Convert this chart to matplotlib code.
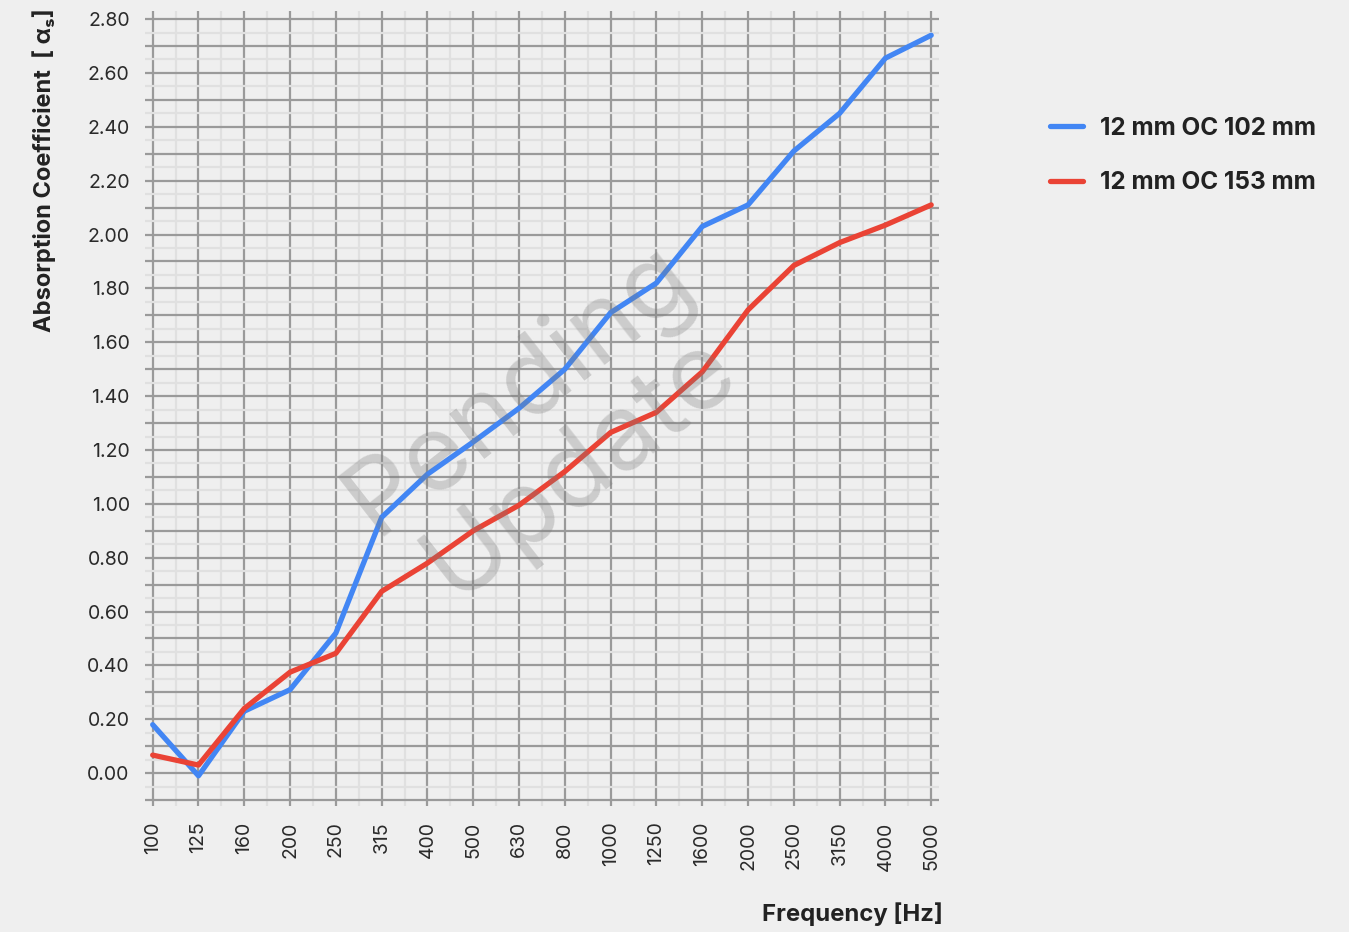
import numpy as np
import matplotlib.pyplot as plt
from matplotlib.ticker import FixedLocator, FuncFormatter

plt.rcParams['font.family'] = ['Inter', 'DejaVu Sans']

# third-octave band centres
freqs = ["100", "125", "160", "200", "250", "315", "400", "500", "630", "800",
         "1000", "1250", "1600", "2000", "2500", "3150", "4000", "5000"]

oc102 = [0.18, -0.01, 0.23, 0.31, 0.52, 0.95, 1.11, 1.23, 1.355, 1.50,
         1.71, 1.82, 2.03, 2.11, 2.31, 2.45, 2.655, 2.74]
oc153 = [0.067, 0.03, 0.24, 0.375, 0.445, 0.675, 0.78, 0.90, 0.995, 1.12,
         1.265, 1.34, 1.49, 1.72, 1.885, 1.97, 2.035, 2.11]

series_names = ["12 mm OC 102 mm", "12 mm OC 153 mm"]
series_colors = ["#4286f4", "#ea4335"]

bg = "#efefef"
fig = plt.figure(figsize=(13.49, 9.32), dpi=100, facecolor=bg)
ax = fig.add_axes([145/1349, 1 - 806/932, (939 - 145)/1349, (806 - 11)/932])
ax.set_facecolor(bg)

x = np.arange(len(freqs))
for vals, name, col in zip([oc102, oc153], series_names, series_colors):
    ax.plot(x, vals, color=col, lw=3.8, label=name, zorder=3,
            solid_capstyle='round', solid_joinstyle='round')

ax.set_xlim(-0.168, len(freqs) - 1 + 0.17)
ax.set_ylim(-0.122, 2.83)

ax.xaxis.set_major_locator(FixedLocator(x))
ax.xaxis.set_minor_locator(FixedLocator(x[:-1] + 0.5))
ax.set_xticklabels(freqs, rotation=90)

ax.yaxis.set_major_locator(FixedLocator(np.round(np.arange(-0.1, 2.81, 0.1), 2)))
ax.yaxis.set_minor_locator(FixedLocator(np.round(np.arange(-0.05, 2.81, 0.1), 2)))
ax.yaxis.set_major_formatter(FuncFormatter(
    lambda v, p: f"{v:.2f}" if round(v * 10) % 2 == 0 and v > -0.05 else ""))

ax.grid(which='major', color='#9a9a9a', lw=1.6, zorder=1)
ax.grid(which='minor', color='#e0e0e0', lw=1.6, zorder=0)
ax.set_axisbelow(True)
ax.tick_params(which='both', length=0, labelsize=14, labelcolor='#2a2a2a', pad=11)
for s in ax.spines.values():
    s.set_visible(False)

fig.text(943/1349, 1 - 914/932, "Frequency [Hz]", ha='right', va='center',
         fontsize=17.2, fontweight='bold', color='#222222')
fig.text(44/1349, 1 - 8/932, "Absorption Coefficient  [ α\u209b]", rotation=90,
         ha='center', va='top', fontsize=17, fontweight='bold', color='#222222',
         family=['Inter', 'DejaVu Sans'])

# watermark
fig.text(549/1349, 1 - 427/932, "Pending\nUpdate", rotation=38, ha='center', va='center',
         multialignment='center', fontsize=76, color='#7a7a7a', alpha=0.3,
         linespacing=1.0, zorder=10)

leg = fig.legend(loc='upper left', bbox_to_anchor=(1028/1349, 1 - 95/932),
                 frameon=False, handlelength=1.35, handletextpad=0.7,
                 labelspacing=1.3, prop={'size': 17.5, 'weight': 'bold'})
for t in leg.get_texts():
    t.set_color('#222222')

fig.savefig("out.png", dpi=100, facecolor=bg)
